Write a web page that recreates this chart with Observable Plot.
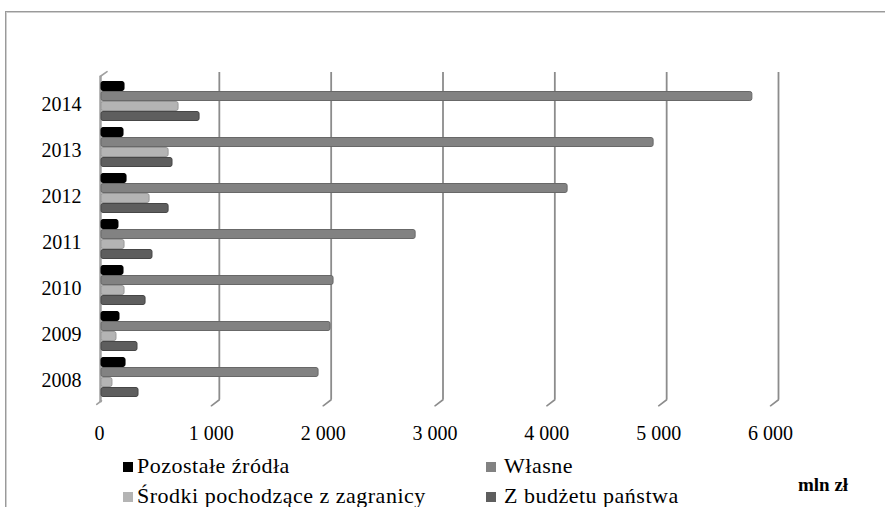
<!DOCTYPE html>
<html>
<head>
<meta charset="utf-8">
<script src="https://cdn.jsdelivr.net/npm/d3@7"></script>
<script src="https://cdn.jsdelivr.net/npm/@observablehq/plot@0.6"></script>
<style>
  html, body { margin: 0; padding: 0; background: #fff; overflow: hidden; }
  #wrap { position: relative; width: 885px; height: 507px; overflow: hidden; font-family: "Liberation Serif", "Times New Roman", serif; }
  #frame { position: absolute; left: 5px; top: 11px; width: 2000px; height: 2000px; border-left: 1px solid #9a9a9a; border-top: 1px solid #9a9a9a; box-shadow: inset 1px 1px 0 #cfcfcf; }
  #chart { position: absolute; left: 0; top: 0; }
  .leg { position: absolute; font-family: "Liberation Serif", "Times New Roman", serif; font-size: 22px; color: #000; white-space: nowrap; line-height: 1; letter-spacing: 0.5px; }
  .sw { position: absolute; width: 10px; height: 10px; }
  #unit { position: absolute; left: 798px; top: 475px; font-family: "Liberation Serif", "Times New Roman", serif; font-size: 19px; line-height: 1; font-weight: bold; color: #000; }
</style>
</head>
<body>
<div id="wrap">
  <div id="frame"></div>
  <div id="chart"></div>
  <div id="legend"></div>
  <div id="unit">mln zł</div>
</div>
<script>
// ---- data (mln zł) ----
const years = ["2014", "2013", "2012", "2011", "2010", "2009", "2008"];
const seriesNames = ["Pozostałe źródła", "Własne", "Środki pochodzące z zagranicy", "Z budżetu państwa"];
const pozostale = [206, 197, 224, 152, 197, 161, 215];
const wlasne    = [5820, 4937, 4168, 2809, 2075, 2048, 1941];
const zagranica = [689, 600, 430, 206, 206, 134, 98];
const budzet    = [877, 635, 600, 456, 394, 322, 331];
const xTicks = [0, 1000, 2000, 3000, 4000, 5000, 6000];

const fills   = ["#000000", "#828282", "#b4b4b4", "#5e5e5e"];
const strokes = ["#000000", "#686868", "#989898", "#464646"];
const seriesValues = [pozostale, wlasne, zagranica, budzet];

const fmt = v => String(v).replace(/\B(?=(\d{3})+(?!\d))/g, " ");
const grid = "#8c8c8c";
const slant = { draw(context, l) { context.moveTo(0, 0); context.lineTo(0, -l); } };

const band = 40; // approximate bandwidth in px
const barH = 10;

const marks = [
  // back-wall gridlines
  Plot.ruleX(xTicks.filter(v => v > 0), { x: d => d, dx: 6, insetTop: -3.75, insetBottom: 2, stroke: grid, strokeWidth: 1.8 }),
  Plot.vector(xTicks.filter(v => v > 0), { x: d => d, frameAnchor: "bottom", dx: 6, dy: -2, length: 10, rotate: 233, anchor: "start", shape: slant, stroke: grid, strokeWidth: 1.6 }),
  // left wall
  Plot.ruleX([0], { x: d => d, dx: -1, insetTop: 0, insetBottom: -1, stroke: "#a0a0a0", strokeWidth: 2.5 }),
  Plot.vector([0], { x: d => d, frameAnchor: "top", dx: -1, dy: 0, length: 8, rotate: 55, anchor: "start", shape: slant, stroke: "#a0a0a0", strokeWidth: 1.6 }),
  Plot.vector([0], { x: d => d, frameAnchor: "bottom", dx: 0, dy: -1, length: 6, rotate: 233, anchor: "start", shape: slant, stroke: "#a0a0a0", strokeWidth: 1.6 }),
];

seriesValues.forEach((vals, i) => {
  marks.push(Plot.barX(years, {
    x: (d, j) => vals[j],
    y: d => d,
    insetTop: 10 * i + 0.5,
    insetBottom: band - 10 * i - barH + 0.5,
    fill: fills[i],
    stroke: strokes[i],
    strokeWidth: 1,
    rx: 2
  }));
});

marks.push(
  Plot.axisY({ tickSize: 0, tickPadding: 20, dy: 3, fontSize: 20 }),
  Plot.axisX({ ticks: xTicks, tickFormat: fmt, tickSize: 0, tickPadding: 24, dx: -2, fontSize: 20 })
);

const plot = Plot.plot({
  width: 885,
  height: 507,
  marginLeft: 101,
  marginRight: 113,
  marginTop: 75.75,
  marginBottom: 105.75,
  style: { fontFamily: "Liberation Serif, Times New Roman, serif", fontSize: "20px", color: "#000", background: "transparent" },
  x: { domain: [0, 6000], axis: null },
  y: { domain: years, paddingInner: 0.14, paddingOuter: 0.07, axis: null },
  marks
});
document.getElementById("chart").appendChild(plot);

// legend
const legendPos = [
  { sx: 123, sy: 462, tx: 137, ty: 455 },
  { sx: 486, sy: 462, tx: 504, ty: 455 },
  { sx: 123, sy: 492, tx: 137, ty: 485 },
  { sx: 486, sy: 492, tx: 504, ty: 485 }
];
const legend = document.getElementById("legend");
seriesNames.forEach((name, i) => {
  const p = legendPos[i];
  const sw = document.createElement("div");
  sw.className = "sw";
  sw.style.left = p.sx + "px";
  sw.style.top = p.sy + "px";
  sw.style.background = fills[i];
  legend.appendChild(sw);
  const t = document.createElement("div");
  t.className = "leg";
  t.style.left = p.tx + "px";
  t.style.top = p.ty + "px";
  t.textContent = name;
  legend.appendChild(t);
});
</script>
</body>
</html>
